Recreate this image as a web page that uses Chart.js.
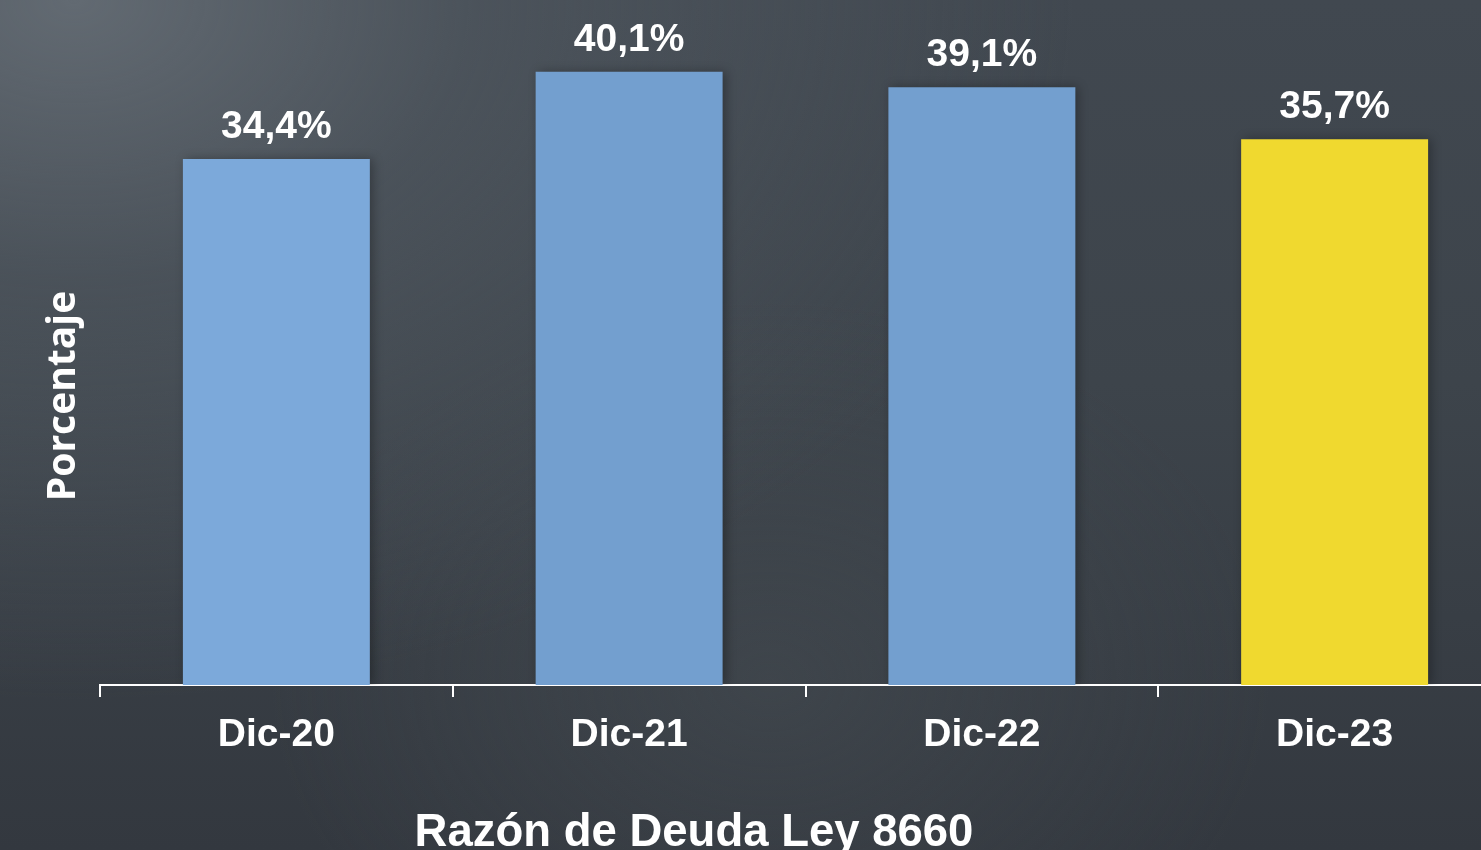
<!DOCTYPE html>
<html lang="es">
<head>
  <meta charset="UTF-8">
  <title>Razón de Deuda Ley 8660</title>
  <script src="https://cdn.jsdelivr.net/npm/chart.js@4.4.1/dist/chart.umd.min.js"></script>
  <style>
    html, body {
      margin: 0;
      padding: 0;
      width: 1481px;
      height: 850px;
      overflow: hidden;
    }
    body {
      background:
        radial-gradient(ellipse 1000px 700px at 5% 0%, rgba(98,106,114,1) 0%, rgba(82,90,98,0.6) 40%, rgba(66,73,81,0) 100%),
        radial-gradient(ellipse 500px 380px at 52% 80%, rgba(70,77,83,0.5) 0%, rgba(70,77,83,0) 100%),
        linear-gradient(180deg, #414850 0%, #3d444b 45%, #33383f 100%);
    }
    #wrap {
      position: absolute;
      left: 0;
      top: 0;
      width: 1512px;
      height: 850px;
    }
  </style>
</head>
<body>
  <div id="wrap">
    <canvas id="chart"></canvas>
  </div>

  <script>
    // datos
    const categorias = ['Dic-20', 'Dic-21', 'Dic-22', 'Dic-23'];
    const valores = [34.4, 40.1, 39.1, 35.7];
    const colores = ['#7ca9da', '#739fcf', '#739fcf', '#f0d92f'];
    const tituloY = 'Porcentaje';
    const tituloX = 'Razón de Deuda Ley 8660';

    const fmt = (v) => v.toFixed(1).replace('.', ',') + '%';

    // sombra suave de las barras
    const sombra = {
      id: 'sombra',
      beforeDatasetsDraw(chart) {
        const ctx = chart.ctx;
        ctx.save();
        ctx.shadowColor = 'rgba(0,0,0,0.3)';
        ctx.shadowBlur = 10;
        ctx.shadowOffsetX = 3;
        ctx.shadowOffsetY = 0;
      },
      afterDatasetsDraw(chart) {
        chart.ctx.restore();
      }
    };

    // etiquetas encima de las barras
    const etiquetas = {
      id: 'etiquetas',
      afterDatasetsDraw(chart) {
        const ctx = chart.ctx;
        const meta = chart.getDatasetMeta(0);
        ctx.save();
        ctx.fillStyle = '#ffffff';
        ctx.font = 'bold 39px "Liberation Sans", Arial, sans-serif';
        ctx.textAlign = 'center';
        ctx.textBaseline = 'alphabetic';
        meta.data.forEach((bar, i) => {
          ctx.fillText(fmt(valores[i]), bar.x, bar.y - 21);
        });
        ctx.restore();
      }
    };

    // titulos de los ejes
    const titulos = {
      id: 'titulos',
      afterDraw(chart) {
        const ctx = chart.ctx;
        ctx.save();
        ctx.fillStyle = '#ffffff';
        ctx.textAlign = 'center';
        ctx.textBaseline = 'alphabetic';
        ctx.font = 'bold 45.5px "Liberation Sans", Arial, sans-serif';
        ctx.fillText(tituloX, 694, 846);

        ctx.translate(75, 396);
        ctx.rotate(-Math.PI / 2);
        ctx.font = 'bold 39px "Open Sans", sans-serif';
        ctx.fillText(tituloY, 0, 0);
        ctx.restore();
      }
    };

    const ctx = document.getElementById('chart').getContext('2d');
    new Chart(ctx, {
      type: 'bar',
      data: {
        labels: categorias,
        datasets: [{
          data: valores,
          backgroundColor: colores,
          borderWidth: 0,
          categoryPercentage: 1,
          barPercentage: 0.53
        }]
      },
      options: {
        responsive: true,
        maintainAspectRatio: false,
        animation: false,
        layout: {
          padding: { left: 100, right: 1, top: 0, bottom: 0 }
        },
        plugins: {
          legend: { display: false },
          tooltip: { enabled: false }
        },
        scales: {
          x: {
            afterFit: (scale) => { scale.height = 165; },
            grid: {
              offset: true,
              drawOnChartArea: false,
              drawTicks: true,
              tickLength: 12,
              color: '#ffffff',
              lineWidth: 2
            },
            border: { display: true, color: '#ffffff', width: 2 },
            ticks: {
              color: '#ffffff',
              padding: 15,
              font: { family: '"Liberation Sans", Arial, sans-serif', size: 39, weight: 'bold' }
            }
          },
          y: {
            display: false,
            min: 0,
            max: 44.8
          }
        }
      },
      plugins: [sombra, etiquetas, titulos]
    });
  </script>
</body>
</html>
